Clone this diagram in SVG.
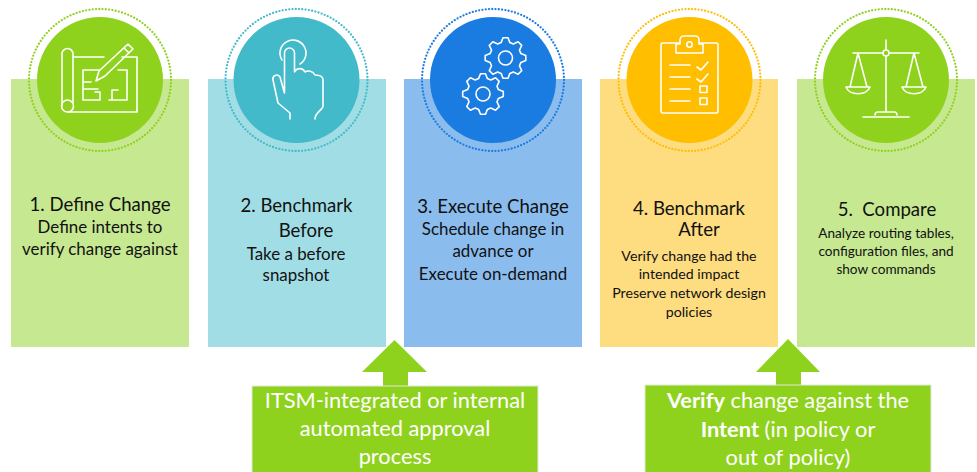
<svg xmlns="http://www.w3.org/2000/svg" width="977" height="472" viewBox="0 0 977 472">
<style>
text{font-family:"Lato","Open Sans",sans-serif;text-anchor:middle;fill:#111}
.h{font-size:18.6px}.b{font-size:16.9px}.s{font-size:13.6px}.t{font-size:14.2px}
.w{fill:#fff;font-size:21.8px}
.i{fill:none;stroke:#fff;stroke-width:1.6;stroke-linejoin:round;stroke-linecap:round}
.d{fill:none;stroke-width:2.3;stroke-dasharray:0 3.3;stroke-linecap:round}
.g{fill:#8FD21E}
</style>
<defs>
<path id="gear" d="M-2.500-20.300H2.500L4.400-15.400 7.800-14 12.600-16.200 16.200-12.600 14-7.800 15.400-4.400 20.300-2.500V2.500L15.400 4.400 14 7.800 16.200 12.600 12.600 16.200 7.800 14 4.400 15.400 2.500 20.300H-2.500L-4.400 15.400-7.800 14-12.600 16.200-16.200 12.600-14 7.800-15.400 4.400-20.300 2.500V-2.500L-15.400-4.400-14-7.800-16.200-12.600-12.600-16.200-7.800-14-4.400-15.400Z"/>
</defs>
<rect width="977" height="472" fill="#fff"/>
<g id="connectors">
<path id="arrow1" class="g" d="M394.500 340 L427 372 L408 372 L408 387 L383 387 L383 372 L362 372 Z"/>
<path id="arrow2" class="g" d="M788 339 L820 372 L801 372 L801 386 L776 386 L776 372 L756 372 Z"/>
</g>
<g id="node1">
<rect x="11" y="79" width="178" height="268" fill="#C5E890"/>
<circle cx="100" cy="80" r="63" class="g"/>
<circle cx="100" cy="80" r="71" class="d" stroke="#8FD21E"/>
<g class="i"><path d="M62 106V54a5.500 5.500 0 0 1 11 0V103M73 57H104M122 57H137V112H68"/><circle cx="67.500" cy="106" r="6"/><path d="M96 81l3-10 29-27 5 5-28 27zM124 48l5 5M100 70H83V100H100V92H95M83 89H98M112 100V90H118M109 100H127V70H118M83 82H91"/></g>
<text class="h" x="100" y="211">1. Define Change</text>
<text class="b" x="100" y="233">Define intents to</text>
<text class="b" x="100" y="255">verify change against</text>
</g>
<g id="node2">
<rect x="208" y="79" width="178" height="268" fill="#A1DDE5"/>
<circle cx="296.500" cy="80" r="63" fill="#43BAC9"/>
<circle cx="296.500" cy="80" r="71" class="d" stroke="#43BAC9"/>
<g class="i"><path d="M282 60A13 13 0 1 1 300 64"/><path d="M284.500 93V53a5 5 0 0 1 10 0V72C297 67 303 68 305 72 308 70 313 71 315 75 318 75 323 76 323 80V106C323 110 315 112 315 119M284.500 93L280 77C277 73 272 76 273 80L278 103 290 113V119"/></g>
<text class="h" x="296.500" y="212">2. Benchmark</text>
<text class="h" x="306" y="237">Before</text>
<text class="b" x="296" y="260">Take a before</text>
<text class="b" x="296" y="281">snapshot</text>
</g>
<g id="node3">
<rect x="404" y="79" width="178" height="268" fill="#8BBCEE"/>
<circle cx="493" cy="80" r="63" fill="#1A7BE0"/>
<circle cx="493" cy="80" r="71" class="d" stroke="#1A7BE0"/>
<g class="i"><circle cx="505.500" cy="58" r="7"/><circle cx="483" cy="94" r="7"/><use href="#gear" x="505.500" y="58"/><use href="#gear" x="483" y="94"/></g>
<text class="h" x="493" y="213">3. Execute Change</text>
<text class="b" x="493" y="235">Schedule change in</text>
<text class="b" x="493" y="257">advance or</text>
<text class="b" x="493" y="280">Execute on-demand</text>
</g>
<g id="node4">
<rect x="600" y="79" width="178" height="268" fill="#FEDC80"/>
<circle cx="689.500" cy="80" r="63" fill="#FFBE00"/>
<circle cx="689.500" cy="80" r="71" class="d" stroke="#FFBE00"/>
<g class="i"><rect x="661" y="43" width="57" height="70" rx="2"/><path d="M676 53V44H680V40a4 4 0 0 1 4-4h11a4 4 0 0 1 4 4V44H703V53Z" fill="#FFBE00"/><circle cx="689.500" cy="44.500" r="2.700"/><path d="M670 65H690M670 77H690M670 89H690M670 101H690M697 67l4 3 7-8M697 79l4 3 7-8M700 86h7v6.500h-7zM700 98h7v6.500h-7z"/></g>
<text class="h" x="689" y="215">4. Benchmark</text>
<text class="h" x="699" y="236">After</text>
<text class="t" x="689" y="261">Verify change had the</text>
<text class="t" x="689" y="279">intended impact</text>
<text class="t" x="689" y="298">Preserve network design</text>
<text class="t" x="689" y="317">policies</text>
</g>
<g id="node5">
<rect x="797" y="79" width="178" height="268" fill="#C5E890"/>
<circle cx="886" cy="80" r="63" class="g"/>
<circle cx="886" cy="80" r="71" class="d" stroke="#8FD21E"/>
<g class="i"><path d="M886 40V112M853 53H919M858 53L850 87M858 53L867 87M914 53L906 87M914 53L923 87M846 87H870c-3 9-21 9-24 0ZM902 87H926c-3 9-21 9-24 0ZM863 117H909M875 115c0-2 1-3 3-3H894c2 0 3 1 3 3"/><circle cx="886" cy="53" r="3" fill="#8FD21E"/></g>
<text class="h" x="887" y="216" xml:space="preserve">5.  Compare</text>
<text class="s" x="886" y="238">Analyze routing tables,</text>
<text class="s" x="886" y="256">configuration files, and</text>
<text class="s" x="886" y="274">show commands</text>
</g>
<g id="note1">
<rect x="252" y="386" width="286" height="87" class="g" stroke="#E3E8DC"/>
<text class="w" x="395" y="408">ITSM-integrated or internal</text>
<text class="w" x="395" y="436">automated approval</text>
<text class="w" x="395" y="464">process</text>
</g>
<g id="note2">
<rect x="645" y="385" width="286" height="88" class="g" stroke="#E3E8DC"/>
<text class="w" x="788" y="408"><tspan font-weight="700">Verify</tspan> change against the</text>
<text class="w" x="788" y="437"><tspan font-weight="700">Intent</tspan> (in policy or</text>
<text class="w" x="788" y="465">out of policy)</text>
</g>
</svg>
